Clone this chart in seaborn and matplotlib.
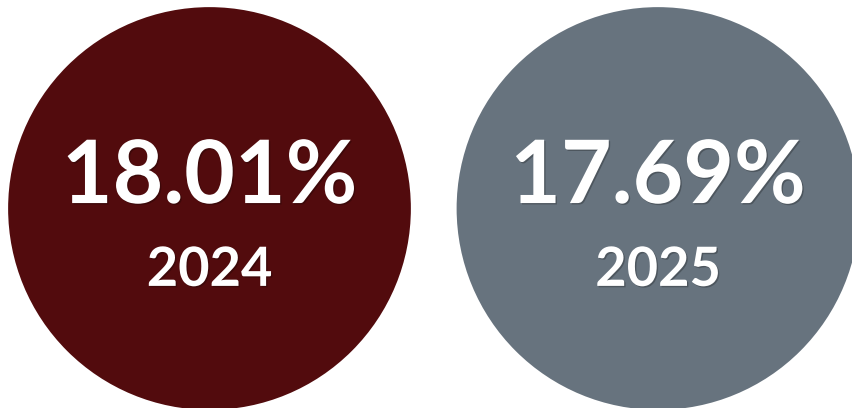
import matplotlib
matplotlib.use("Agg")
import matplotlib.pyplot as plt
import matplotlib.patheffects as pe
from matplotlib.patches import Circle
import seaborn as sns

# data
years = ["2024", "2025"]
rates = [18.01, 17.69]
colors = ["#520b0d", "#67737e"]

sns.set_theme(style="white")
plt.rcParams['font.family'] = ['Lato', 'DejaVu Sans']

fig = plt.figure(figsize=(8.53, 4.08), dpi=100)
ax = fig.add_axes([0, 0, 1, 1])
ax.set_xlim(-0.4671, 1.4348)
ax.set_ylim(-0.4448, 0.4649)
ax.set_aspect("equal")
ax.axis("off")

shadow = [pe.SimplePatchShadow(offset=(1, -1), shadow_rgbFace="black", alpha=0.25), pe.Normal()]

r = 0.449
for i, (yr, val, c) in enumerate(zip(years, rates, colors)):
    ax.add_patch(Circle((i, 0), r, color=c, lw=0))
    ax.text(i, 0.069, f"{val:.2f}%", ha="center", va="center", color="white",
            fontsize=63, fontweight="bold", path_effects=shadow)
    ax.text(i, -0.138, yr, ha="center", va="center", color="white",
            fontsize=39, fontweight="bold", path_effects=shadow)

fig.savefig("out.png", dpi=100)
